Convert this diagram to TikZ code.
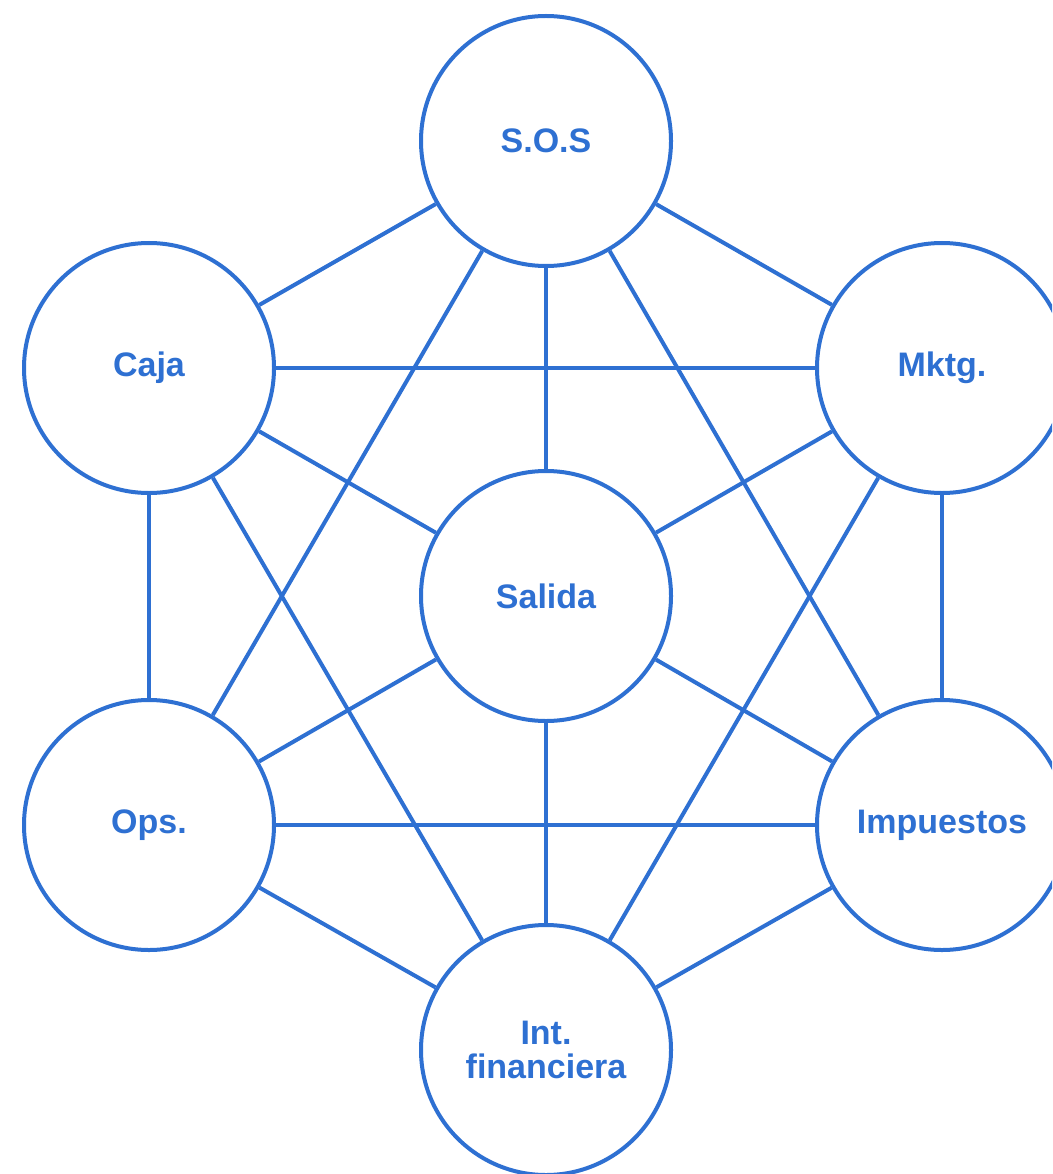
\documentclass[tikz,border=0pt]{standalone}
\usepackage{fontspec}
\setmainfont{Liberation Sans}
\usepackage{tikz}
\usetikzlibrary{positioning}

\definecolor{netblue}{RGB}{46,112,210}

\tikzset{
    area/.style={circle, draw=netblue, line width=4pt, fill=white,
        minimum size=250pt, inner sep=0pt, align=center,
        text=netblue, font=\fontsize{34}{34}\selectfont\bfseries},
    link/.style={draw=netblue, line width=4pt}
}

\begin{document}
\begin{tikzpicture}[x=1pt, y=-1pt]
    \useasboundingbox (0,0) rectangle (1052,1174);
    \clip (0,0) rectangle (1052,1174);

    % Outer ring and centre
    \node[area] (sos) at (546,141) {S.O.S};
    \node[area] (caja) at (149,368) {Caja};
    \node[area] (mktg) at (942,368) {Mktg.};
    \node[area] (sal) at (546,596) {Salida};
    \node[area] (ops) at (149,825) {Ops.};
    \node[area] (imp) at (942,825) {Impuestos};
    \node[area] (intf) at (546,1050) {Int.\\financiera};

    % Connections
    \foreach \a/\b in {sos/caja, sos/mktg, sos/sal, sos/ops, sos/imp,
                       caja/mktg, caja/sal, caja/ops, caja/intf,
                       mktg/sal, mktg/imp, mktg/intf,
                       sal/ops, sal/imp, sal/intf,
                       ops/imp, ops/intf, imp/intf} {
        \draw[link] (\a) -- (\b);
    }
\end{tikzpicture}
\end{document}
